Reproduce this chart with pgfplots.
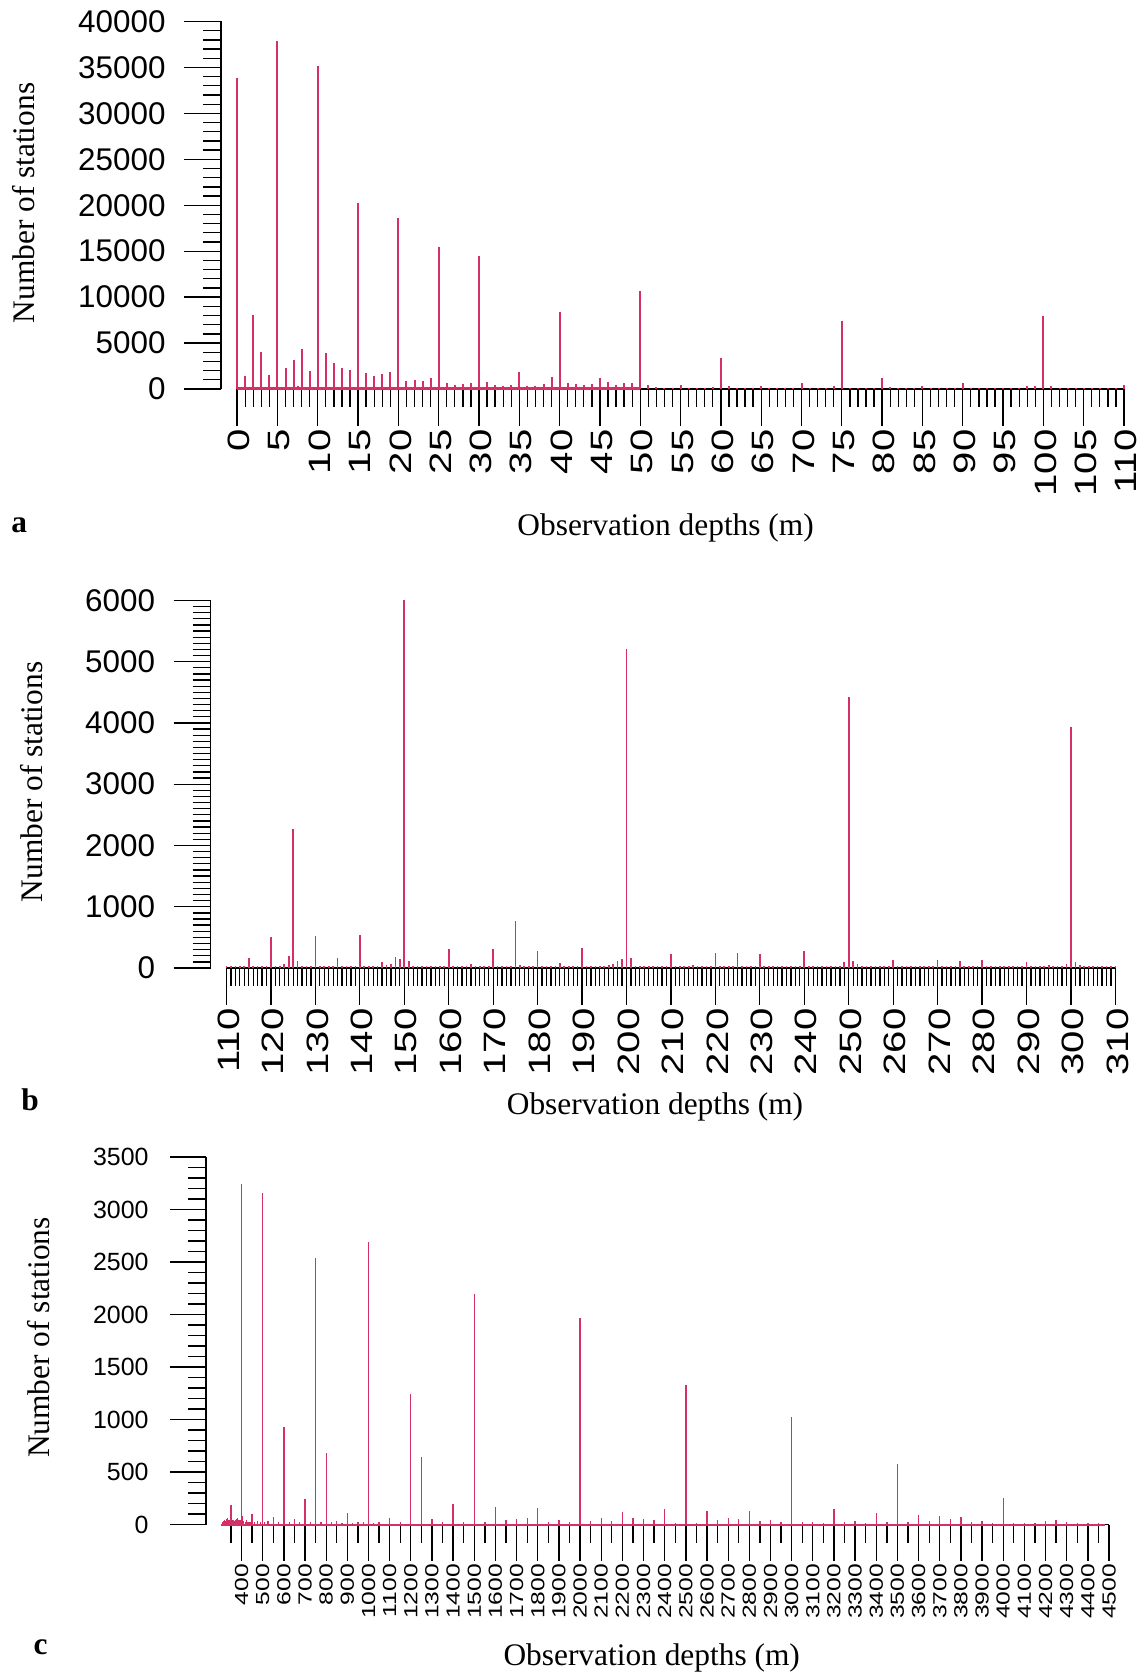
\documentclass[border=0pt]{standalone}
\usepackage{pgfplots}
\pgfplotsset{compat=1.18}
\usepackage{pgfplotstable}
\usepackage{fontspec}
\setmainfont{Liberation Serif}
\newfontfamily\sansf{Liberation Sans}
\newfontfamily\sansw[FakeStretch=1.3]{Liberation Sans}
\definecolor{bar}{RGB}{212,48,102}

\pgfplotstableread{
x y
0 33800
1 1400
2 8100
3 4000
4 1500
5 37900
6 2300
7 3200
7.5 300
8 4300
9 2000
10 35100
11 3900
12 2800
13 2300
14 2100
15 20200
16 1700
17 1400
18 1600
19 1800
20 18600
21 900
22 1000
23 900
24 1200
25 15400
26 700
27 400
28 500
29 700
30 14500
31 800
32 400
33 360
34 430
35 1800
36 360
37 330
38 580
39 1300
40 8400
41 700
42 580
43 470
44 580
45 1200
46 760
47 470
48 650
49 650
50 10700
51 470
52 220
53 150
54 150
55 400
56 150
57 150
58 150
59 220
60 3400
61 290
62 150
63 130
64 130
65 360
66 130
67 130
68 130
69 130
70 690
71 130
72 130
73 150
74 330
75 7400
76 150
77 120
78 120
79 150
80 1200
81 250
82 120
83 120
84 120
85 360
86 120
87 120
88 120
89 120
90 650
91 120
92 120
93 120
94 120
95 150
96 120
97 150
98 290
99 290
100 7900
101 290
102 120
103 120
104 120
105 120
106 120
107 120
108 120
109 120
110 470
}\dataA

\pgfplotstableread{
x y
110 30
111 25
112 30
113 25
114 30
115 170
116 25
117 30
118 25
119 30
120 510
121 40
122 40
123 70
124 200
125 2270
126 110
127 25
128 40
129 25
130 520
131 30
132 25
133 30
134 25
135 155
136 30
137 25
138 30
139 30
140 535
141 40
142 25
143 30
144 25
145 95
146 45
147 65
148 185
149 145
150 6000
151 120
152 30
153 25
154 30
155 25
156 30
157 25
158 30
159 25
160 305
161 30
162 25
163 30
164 25
165 65
166 25
167 30
168 25
169 30
170 305
171 25
172 30
173 35
174 40
175 775
176 50
177 25
178 30
179 25
180 285
181 30
182 25
183 30
184 25
185 85
186 25
187 30
188 25
189 30
190 328
191 25
192 30
193 35
194 35
195 40
196 45
197 70
198 118
199 142
200 5200
201 158
202 40
203 40
204 30
205 25
206 30
207 25
208 30
209 25
210 230
211 25
212 30
213 25
214 30
215 50
216 25
217 25
218 30
219 25
220 242
221 30
222 25
223 30
224 25
225 240
226 30
227 25
228 30
229 25
230 235
231 25
232 30
233 25
234 30
235 38
236 25
237 30
238 25
239 30
240 276
241 30
242 25
243 30
244 25
245 40
246 40
247 40
248 40
249 95
250 4430
251 108
252 65
253 30
254 25
255 30
256 25
257 30
258 25
259 30
260 128
261 25
262 30
263 25
264 30
265 35
266 25
267 30
268 25
269 30
270 125
271 25
272 30
273 25
274 30
275 115
276 25
277 30
278 25
279 30
280 128
281 25
282 30
283 25
284 30
285 35
286 25
287 30
288 25
289 30
290 100
291 25
292 30
293 30
294 35
295 45
296 40
297 35
298 40
299 68
300 3940
301 100
302 45
303 35
304 30
305 30
306 30
307 25
308 30
309 25
310 30
}\dataB

\pgfplotstableread{
x y
310 20
315 30
320 40
325 38
330 55
335 60
340 40
345 35
350 190
355 45
360 40
365 35
370 45
375 50
380 60
385 40
390 45
395 40
400 3240
405 80
410 30
420 25
425 40
430 20
440 20
450 100
460 20
475 30
490 25
500 3160
510 25
525 30
550 70
575 25
600 930
625 20
650 50
675 20
700 240
725 20
750 2540
775 20
800 680
825 20
850 38
875 15
900 111
925 15
950 22
975 20
1000 2690
1025 15
1050 20
1100 66
1150 25
1200 1240
1250 640
1300 55
1350 20
1400 200
1450 25
1500 2200
1550 25
1600 170
1650 40
1700 52
1750 66
1800 160
1850 20
1900 45
1950 20
2000 1970
2050 30
2100 60
2150 35
2200 120
2250 60
2300 50
2350 48
2400 150
2450 15
2500 1330
2550 15
2600 130
2650 44
2700 66
2750 50
2800 130
2850 35
2900 44
2950 25
3000 1020
3050 20
3100 25
3150 15
3200 150
3250 20
3300 35
3350 15
3400 110
3450 20
3500 580
3550 20
3600 90
3650 38
3700 80
3750 50
3800 75
3850 20
3900 35
3950 15
4000 250
4050 15
4100 15
4150 15
4200 35
4250 48
4300 28
4350 15
4400 15
4450 15
}\dataC

\pgfplotsset{
  rstyle/.style={
    scale only axis,
    anchor=south west,
    axis y line*=left,
    axis x line*=bottom,
    x axis line style={draw=none},
    y axis line style={-, line width=1.3bp},
    tick align=outside,
    every tick/.style={black, line width=1.3bp},
    major tick length=37bp,
    minor tick length=18bp,
    clip=false,
    scaled ticks=false,
    /pgf/number format/assume math mode=true,
    /pgf/number format/fixed,
    /pgf/number format/precision=0,
    /pgf/number format/1000 sep={},
  },
}

\begin{document}
\begin{tikzpicture}
\useasboundingbox (0,0) rectangle (1140bp,1676bp);

% ---------------- panel a ----------------
\begin{axis}[rstyle, at={(221bp,1287bp)}, width=903bp, height=367.5bp,
  xmin=-2, xmax=110, ymin=0, ymax=40000,
  xtick={0,5,...,110}, minor xtick={0,...,110},
  ytick={0,5000,...,40000}, minor ytick={0,1000,...,40000},
  yticklabel style={font=\sansf\fontsize{31.5}{31.5}\selectfont, xshift=-15bp},
  xticklabel style={font=\sansw\fontsize{31}{31}\selectfont, rotate=90, anchor=east, yshift=-2bp},
]
\addplot[black, line width=1.3bp] coordinates {(0,0) (110,0)};
\addplot[bar, line width=3bp] coordinates {(0,0) (50,0)};
\addplot[ycomb, bar, line width=2bp, mark=none] table {\dataA};
\end{axis}

% ---------------- panel b ----------------
\begin{axis}[rstyle, at={(210.5bp,708bp)}, width=904.9bp, height=367.6bp,
  xmin=106.4, xmax=310, ymin=0, ymax=6000,
  xtick={110,120,...,310}, minor xtick={110,...,310},
  ytick={0,1000,...,6000}, minor ytick={0,100,...,6000},
  yticklabel style={font=\sansf\fontsize{31.5}{31.5}\selectfont, xshift=-15bp},
  xticklabel style={font=\sansw\fontsize{31}{31}\selectfont, rotate=90, anchor=east, yshift=-2bp},
]
\addplot[black, line width=1.3bp] coordinates {(110,0) (310,0)};
\addplot[ycomb, bar, line width=1.7bp, mark=none] table {\dataB};
\end{axis}

% ---------------- panel c ----------------
\begin{axis}[rstyle, at={(206bp,151.4bp)}, width=903bp, height=367.6bp,
  xmin=232, xmax=4500, ymin=0, ymax=3500,
  major tick length=36bp, minor tick length=18bp,
  xtick={400,500,...,4500}, minor xtick={350,450,...,4450},
  ytick={0,500,...,3500}, minor ytick={0,100,...,3500},
  yticklabel style={font=\sansf\fontsize{25}{25}\selectfont, xshift=-18bp},
  xticklabel style={font=\sansw\fontsize{19}{19}\selectfont, rotate=90, anchor=east},
]
\addplot[black, line width=1.3bp] coordinates {(350,0) (4500,0)};
\addplot[bar, line width=2bp] coordinates {(305,0) (4480,0)};
\addplot[ycomb, bar, line width=1.3bp, mark=none] table {\dataC};
\end{axis}

% ---------------- titles ----------------
\node[rotate=90, font=\fontsize{31.5}{31.5}\selectfont] at (23.5bp,1473bp) {Number of stations};
\node[font=\fontsize{31.5}{31.5}\selectfont] at (665.6bp,1148.2bp) {Observation depths (m)};
\node[font=\bfseries\fontsize{31.5}{31.5}\selectfont] at (19.2bp,1150.4bp) {a};

\node[rotate=90, font=\fontsize{31.5}{31.5}\selectfont] at (32bp,894bp) {Number of stations};
\node[font=\fontsize{31.5}{31.5}\selectfont] at (655bp,569bp) {Observation depths (m)};
\node[font=\bfseries\fontsize{31.5}{31.5}\selectfont] at (30bp,576bp) {b};

\node[rotate=90, font=\fontsize{31.5}{31.5}\selectfont] at (38.5bp,338.4bp) {Number of stations};
\node[font=\fontsize{31.5}{31.5}\selectfont] at (651.7bp,18bp) {Observation depths (m)};
\node[font=\bfseries\fontsize{31.5}{31.5}\selectfont] at (40.6bp,28.5bp) {c};
\end{tikzpicture}
\end{document}
